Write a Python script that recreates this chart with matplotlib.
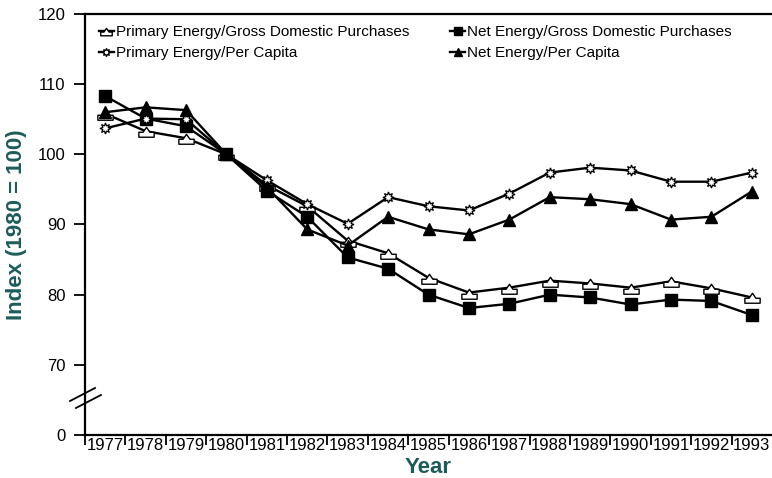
import matplotlib
matplotlib.use("Agg")
import matplotlib.pyplot as plt
from matplotlib.path import Path
from matplotlib.lines import Line2D

plt.rcParams['font.family'] = ['Liberation Sans', 'DejaVu Sans']

years = [str(y) for y in range(1977, 1994)]
pe_gdp = [105.8, 103.3, 102.3, 100.0, 95.6, 92.6, 87.7, 85.9, 82.4, 80.3, 81.0, 82.0, 81.6, 81.0, 81.9, 80.9, 79.6]
pe_pc  = [103.7, 105.1, 105.0, 100.0, 96.3, 92.9, 90.1, 93.9, 92.6, 92.0, 94.4, 97.4, 98.1, 97.7, 96.1, 96.1, 97.4]
ne_gdp = [108.3, 105.1, 104.0, 100.0, 94.8, 91.1, 85.3, 83.7, 80.0, 78.1, 78.7, 80.0, 79.6, 78.6, 79.3, 79.1, 77.1]
ne_pc  = [106.0, 106.7, 106.3, 100.0, 95.3, 89.3, 87.0, 91.1, 89.3, 88.6, 90.7, 93.9, 93.6, 92.9, 90.7, 91.1, 94.7]

ytick_vals = [60, 70, 80, 90, 100, 110, 120]
ytick_labels = ["0", "70", "80", "90", "100", "110", "120"]

teal = "#1d5c5a"

fig = plt.figure(figsize=(7.72, 4.78), dpi=100)
ax = fig.add_axes([85/772, 1-435/478, 1-85/772, (435-14)/478])

house = Path([(-1, -0.75), (1, -0.75), (1, -0.1), (0.45, -0.1), (0, 0.55), (-0.45, -0.1), (-1, -0.1), (-1, -0.75)],
             [Path.MOVETO] + [Path.LINETO]*6 + [Path.CLOSEPOLY])

x = list(range(len(years)))
lw = 1.7
ax.plot(x, pe_gdp, color='black', lw=lw, marker=house, ms=11, mfc='white', mec='black', mew=1.0,
        label='Primary Energy/Gross Domestic Purchases', zorder=3)
ax.plot(x, ne_gdp, color='black', lw=lw, marker='s', ms=8, mfc='black', mec='black',
        label='Net Energy/Gross Domestic Purchases', zorder=3)
ax.plot(x, pe_pc, color='black', lw=lw, marker=(8, 1, 0), ms=8, mfc='white', mec='black', mew=0.9,
        label='Primary Energy/Per Capita', zorder=3)
ax.plot(x, ne_pc, color='black', lw=lw, marker='^', ms=8, mfc='black', mec='black',
        label='Net Energy/Per Capita', zorder=3)

ax.set_xlim(-0.5, len(years) - 0.5)
ax.set_ylim(60, 120)

ax.set_yticks(ytick_vals)
ax.set_yticklabels(ytick_labels, fontsize=12)
ax.tick_params(axis='y', direction='out', length=8, width=1.3, pad=6)

ax.set_xticks(x)
ax.set_xticklabels(years, fontsize=12)
ax.tick_params(axis='x', which='major', length=0, pad=2)
ax.set_xticks([i - 0.5 for i in x], minor=True)
ax.tick_params(axis='x', which='minor', direction='out', length=7, width=1.3)

for s in ['left', 'bottom', 'top']:
    ax.spines[s].set_linewidth(1.6)
ax.spines['right'].set_visible(False)

ax.set_ylabel('Index (1980 = 100)', fontsize=16, fontweight='bold', color=teal, labelpad=8)
ax.set_xlabel('Year', fontsize=16, fontweight='bold', color=teal, labelpad=3)

handles, labels = ax.get_legend_handles_labels()
order = [0, 2, 1, 3]
ax.legend([handles[i] for i in order], [labels[i] for i in order], ncol=2, frameon=False,
          loc='upper left', bbox_to_anchor=(0.0, 1.006), fontsize=11, handlelength=1.0,
          handletextpad=0.1, columnspacing=2.7, labelspacing=0.45, markerscale=0.75)

# axis break marks
for dy in (0, 7):
    fig.add_artist(Line2D([70/772 + dy*0.85/772, 95/772 + dy*0.85/772],
                          [1-(401+dy)/478, 1-(388+dy)/478],
                          color='black', lw=1.3, transform=fig.transFigure))

fig.savefig('out.png', dpi=100)
